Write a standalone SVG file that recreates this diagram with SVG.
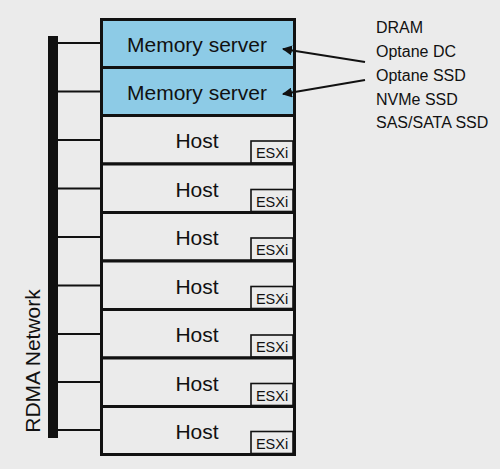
<svg xmlns="http://www.w3.org/2000/svg" width="500" height="469" viewBox="0 0 500 469">
<defs>
<style>
.row{stroke:#111;stroke-width:3}
.mem{fill:#8dcbe6}
.host{fill:#ebebeb}
.esxi{fill:#ebebeb;stroke:#111;stroke-width:1.6}
.lbl{font-family:"Liberation Sans",Arial,sans-serif;font-size:21px;fill:#111;text-anchor:middle}
.small{font-family:"Liberation Sans",Arial,sans-serif;font-size:14.5px;fill:#111;text-anchor:middle}
.side{font-family:"Liberation Sans",Arial,sans-serif;font-size:16px;fill:#111}
.link{stroke:#111;stroke-width:2;fill:none}
.arr{stroke:#111;stroke-width:2;fill:none;marker-end:url(#ah)}
</style>
<marker id="ah" viewBox="0 0 10 10" refX="9" refY="5" markerWidth="5" markerHeight="5" orient="auto" markerUnits="strokeWidth">
<path d="M0,0 L10,5 L0,10 z" fill="#111"/>
</marker>
</defs>
<rect width="500" height="469" fill="#ebebeb"/>
<g id="network">
<rect x="48" y="36" width="10" height="402" fill="#111"/>
<text class="lbl" transform="translate(40,361) rotate(-90)">RDMA Network</text>
</g>
<g id="mem1"><rect class="row mem" x="101.5" y="19.5" width="193" height="48"/><text class="lbl" x="197" y="52">Memory server</text></g>
<g id="mem2"><rect class="row mem" x="101.5" y="67.5" width="193" height="48"/><text class="lbl" x="197" y="100">Memory server</text></g>
<g id="host1"><rect class="row host" x="101.5" y="115.5" width="193" height="48.5"/><text class="lbl" x="197" y="148">Host</text><rect class="esxi" x="251" y="141" width="42" height="22"/><text class="small" x="272" y="158">ESXi</text></g>
<g id="host2"><rect class="row host" x="101.5" y="164" width="193" height="48.5"/><text class="lbl" x="197" y="196.5">Host</text><rect class="esxi" x="251" y="189.5" width="42" height="22"/><text class="small" x="272" y="206.5">ESXi</text></g>
<g id="host3"><rect class="row host" x="101.5" y="212.5" width="193" height="48.5"/><text class="lbl" x="197" y="245">Host</text><rect class="esxi" x="251" y="238" width="42" height="22"/><text class="small" x="272" y="255">ESXi</text></g>
<g id="host4"><rect class="row host" x="101.5" y="261" width="193" height="48.5"/><text class="lbl" x="197" y="293.5">Host</text><rect class="esxi" x="251" y="286.5" width="42" height="22"/><text class="small" x="272" y="303.5">ESXi</text></g>
<g id="host5"><rect class="row host" x="101.5" y="309.5" width="193" height="48.5"/><text class="lbl" x="197" y="342">Host</text><rect class="esxi" x="251" y="335" width="42" height="22"/><text class="small" x="272" y="352">ESXi</text></g>
<g id="host6"><rect class="row host" x="101.5" y="358" width="193" height="48.5"/><text class="lbl" x="197" y="390.5">Host</text><rect class="esxi" x="251" y="383.5" width="42" height="22"/><text class="small" x="272" y="400.5">ESXi</text></g>
<g id="host7"><rect class="row host" x="101.5" y="406.5" width="193" height="48"/><text class="lbl" x="197" y="439">Host</text><rect class="esxi" x="251" y="431.5" width="42" height="22"/><text class="small" x="272" y="448.5">ESXi</text></g>
<g id="tiers">
<text class="side" x="376" y="33">DRAM</text>
<text class="side" x="376" y="57">Optane DC</text>
<text class="side" x="376" y="81">Optane SSD</text>
<text class="side" x="376" y="104.5">NVMe SSD</text>
<text class="side" x="376" y="128">SAS/SATA SSD</text>
</g>
<g id="connectors">
<line class="link" x1="58" y1="43" x2="100" y2="43"/>
<line class="link" x1="58" y1="91.5" x2="100" y2="91.5"/>
<line class="link" x1="58" y1="140" x2="100" y2="140"/>
<line class="link" x1="58" y1="188.5" x2="100" y2="188.5"/>
<line class="link" x1="58" y1="237" x2="100" y2="237"/>
<line class="link" x1="58" y1="285.5" x2="100" y2="285.5"/>
<line class="link" x1="58" y1="334" x2="100" y2="334"/>
<line class="link" x1="58" y1="382" x2="100" y2="382"/>
<line class="link" x1="58" y1="430" x2="100" y2="430"/>
<line class="arr" x1="365" y1="62" x2="283" y2="49"/>
<line class="arr" x1="365" y1="80" x2="283" y2="94"/>
</g>
</svg>
